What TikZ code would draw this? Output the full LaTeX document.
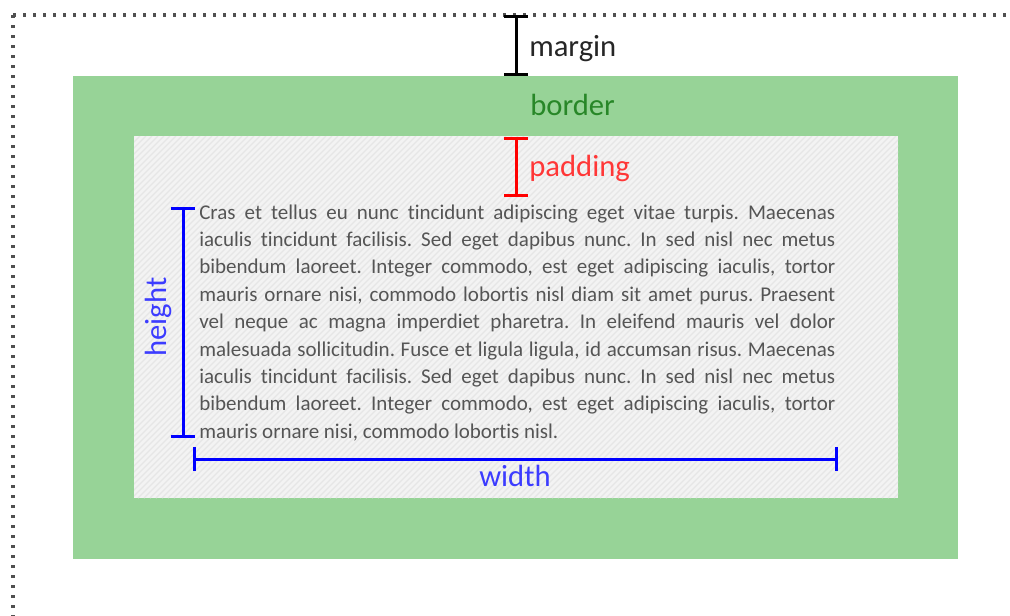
\documentclass[tikz,border=0pt]{standalone}
\usepackage{fontspec}
\setmainfont{Carlito}[Ligatures=NoCommon]
\usetikzlibrary{arrows.meta}
\definecolor{boxgreen}{RGB}{151,211,151}
\definecolor{padgrey}{RGB}{243,243,243}
\definecolor{hatchgrey}{RGB}{230,230,230}
\definecolor{dotgrey}{RGB}{80,80,80}
\definecolor{bordertext}{RGB}{40,135,40}
\definecolor{padtext}{RGB}{255,55,55}
\definecolor{dimtext}{RGB}{60,60,255}
\definecolor{bodygrey}{RGB}{85,85,85}
\tikzset{
  dotline/.style={draw=dotgrey, line width=2.5pt, dash pattern=on 2.5pt off 5pt},
  dimbar/.style={line width=2.25pt, {Bar[width=18pt]}-{Bar[width=18pt]}},
  lab/.style={font=\fontsize{23pt}{27pt}\selectfont, inner sep=0pt},
  bodytext/.style={font=\fontsize{15.75pt}{20.5pt}\selectfont, text=bodygrey, inner sep=0pt, anchor=base west},
}
\newcommand{\jline}[1]{\makebox[477pt][s]{#1}}
\frenchspacing
\begin{document}
\frenchspacing
\begin{tikzpicture}[x=0.75pt,y=-0.75pt]
\useasboundingbox (0,0) rectangle (1010,615);
% margin outline (dotted)
\coordinate (corner) at (13,15);
\coordinate (topend) at (1012,15);
\coordinate (leftend) at (13,617);
\draw[dotline] (corner) -- (topend);
\draw[dotline] (corner) -- (leftend);
% border
\fill[boxgreen] (73,76) rectangle (958,559);
% padding box with hatch
\fill[padgrey] (134,136) rectangle (898,498);
\begin{scope}
  \clip (134,136) rectangle (898,498);
  \foreach \i in {0,6,...,1140}
    \draw[hatchgrey, line width=0.9pt] (134+\i,136) -- ++(-362,362);
\end{scope}
% body text
\node[bodytext] (t1) at (199,219.0) {\jline{Cras et tellus eu nunc tincidunt adipiscing eget vitae turpis. Maecenas}};
\node[bodytext] (t2) at (199,246.4) {\jline{iaculis tincidunt facilisis. Sed eget dapibus nunc. In sed nisl nec metus}};
\node[bodytext] (t3) at (199,273.8) {\jline{bibendum laoreet. Integer commodo, est eget adipiscing iaculis, tortor}};
\node[bodytext] (t4) at (199,301.2) {\jline{mauris ornare nisi, commodo lobortis nisl diam sit amet purus. Praesent}};
\node[bodytext] (t5) at (199,328.6) {\jline{vel neque ac magna imperdiet pharetra. In eleifend mauris vel dolor}};
\node[bodytext] (t6) at (199,356.0) {\jline{malesuada sollicitudin. Fusce et ligula ligula, id accumsan risus. Maecenas}};
\node[bodytext] (t7) at (199,383.4) {\jline{iaculis tincidunt facilisis. Sed eget dapibus nunc. In sed nisl nec metus}};
\node[bodytext] (t8) at (199,410.8) {\jline{bibendum laoreet. Integer commodo, est eget adipiscing iaculis, tortor}};
\node[bodytext] (t9) at (199,438.2) {mauris ornare nisi, commodo lobortis nisl.};
% dimension bars
\coordinate (mtop) at (516,15);
\coordinate (mbot) at (516,76);
\draw[dimbar, black] (mtop) -- (mbot);
\coordinate (ptop) at (516,137);
\coordinate (pbot) at (516,197);
\draw[dimbar, red] (ptop) -- (pbot);
\coordinate (htop) at (183,207);
\coordinate (hbot) at (183,438);
\draw[dimbar, blue] (htop) -- (hbot);
\coordinate (wl) at (193,459);
\coordinate (wr) at (838,459);
\draw[dimbar, blue] (wl) -- (wr);
% labels
\node[lab, anchor=base west, text=black!85] (lmargin) at (529,56) {margin};
\node[lab, anchor=base west, text=bordertext] (lborder) at (530,115) {border};
\node[lab, anchor=base west, text=padtext] (lpadding) at (529,176) {padding};
\node[lab, anchor=base, text=dimtext] (lwidth) at (515,486) {width};
\node[lab, anchor=base, rotate=90, text=dimtext] (lheight) at (166,317) {height};
\end{tikzpicture}
\end{document}
